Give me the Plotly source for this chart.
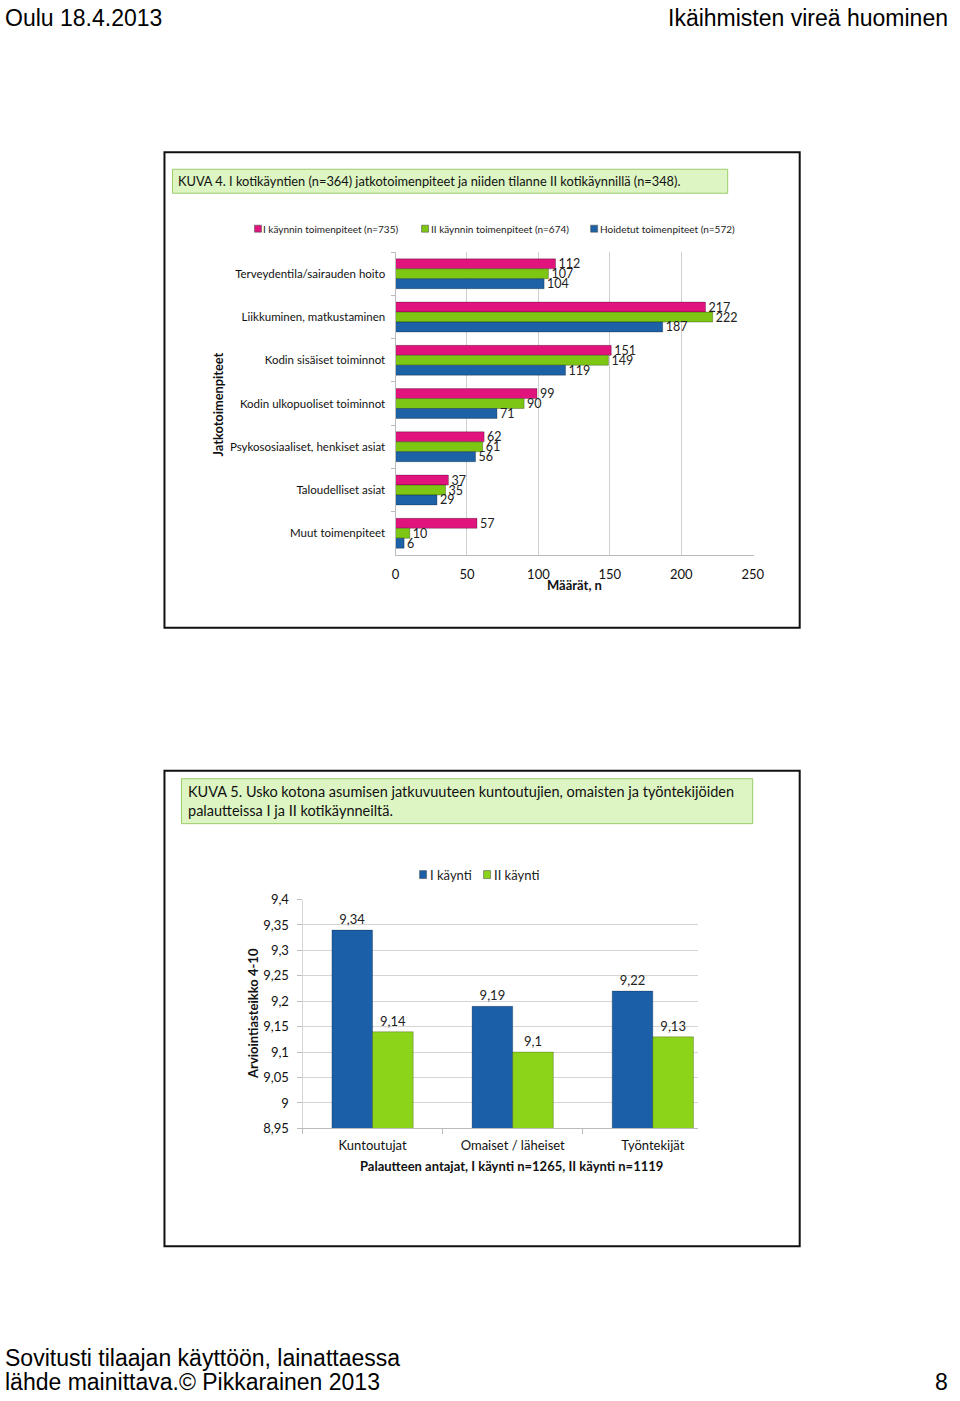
import plotly.graph_objects as go

W, H = 960, 1401
# measured mapping of page pixels -> photographed pixels (compensated below)
SX, OX = 0.984, 3.6
SY, OY = 0.9895, 7.6

# ---- Chart 1 data ----
categories1 = ["Terveydentila/sairauden hoito", "Liikkuminen, matkustaminen",
               "Kodin sisäiset toiminnot", "Kodin ulkopuoliset toiminnot",
               "Psykososiaaliset, henkiset asiat", "Taloudelliset asiat",
               "Muut toimenpiteet"]
visit1_actions = [112, 217, 151, 99, 62, 37, 57]
visit2_actions = [107, 222, 149, 90, 61, 35, 10]
done_actions = [104, 187, 119, 71, 56, 29, 6]
series1_names = ["I käynnin toimenpiteet (n=735)", "II käynnin toimenpiteet (n=674)",
                 "Hoidetut toimenpiteet (n=572)"]
x1_ticks = [0, 50, 100, 150, 200, 250]

# ---- Chart 2 data ----
categories2 = ["Kuntoutujat", "Omaiset / läheiset", "Työntekijät"]
visit1_scores = [9.34, 9.19, 9.22]
visit2_scores = [9.14, 9.10, 9.13]
series2_names = ["I käynti", "II käynti"]
y2_ticks = [8.95, 9.0, 9.05, 9.1, 9.15, 9.2, 9.25, 9.3, 9.35, 9.4]

PINK = "#e0147c"
GREEN1 = "#7dc614"
BLUE1 = "#1d62a6"
BLUE2 = "#1a5fa8"
GREEN2 = "#8cd41a"
FONT = "Lato"
HFONT = "Liberation Sans"


def px(x):
    return ((x - OX) / SX) / W


def py(y):
    return 1 - ((y - OY) / SY) / H


def fmt(v):
    s = f"{v:.2f}".rstrip("0").rstrip(".")
    return s.replace(".", ",")


fig = go.Figure()

for vals, name, col in zip([visit1_actions, visit2_actions, done_actions], series1_names,
                           [PINK, GREEN1, BLUE1]):
    fig.add_trace(go.Bar(
        x=vals, y=categories1, orientation="h", name=name, showlegend=False,
        marker=dict(color=col, line=dict(color="rgba(0,0,0,0.35)", width=0.8)),
        text=[str(v) for v in vals], textposition="outside", cliponaxis=False,
        constraintext="none",
        textfont=dict(size=12.5, color="#222", family=FONT),
        xaxis="x", yaxis="y"))

bar2_width = 0.29
for i, (vals, name, col) in enumerate(zip([visit1_scores, visit2_scores], series2_names,
                                          [BLUE2, GREEN2])):
    fig.add_trace(go.Bar(
        x=categories2, y=vals, name=name, showlegend=False,
        width=bar2_width, offset=(i - 1) * bar2_width,
        marker=dict(color=col, line=dict(color="rgba(0,0,0,0.3)", width=0.8)),
        text=[fmt(v) for v in vals], textposition="outside", cliponaxis=False,
        constraintext="none",
        textfont=dict(size=13, color="#222", family=FONT),
        xaxis="x2", yaxis="y2"))

shapes = [
    dict(type="rect", x0=px(164), x1=px(799), y0=py(628), y1=py(152),
         line=dict(color="#111", width=2), fillcolor="rgba(0,0,0,0)", layer="below"),
    dict(type="rect", x0=px(164), x1=px(799), y0=py(1247), y1=py(771),
         line=dict(color="#111", width=2), fillcolor="rgba(0,0,0,0)", layer="below"),
    dict(type="rect", x0=px(172), x1=px(727), y0=py(193), y1=py(169),
         line=dict(color="#9ccc6a", width=1), fillcolor="#dcf5c2", layer="below"),
    dict(type="rect", x0=px(181), x1=px(752), y0=py(824), y1=py(779),
         line=dict(color="#9ccc6a", width=1), fillcolor="#dcf5c2", layer="below"),
]

ann = [
    dict(text="Oulu 18.4.2013", x=0, y=1 + 4 / H, xanchor="left", yanchor="top",
         font=dict(family=HFONT, size=23, color="#000")),
    dict(text="Ikäihmisten vireä huominen", x=1, y=1 + 4 / H, xanchor="right", yanchor="top",
         font=dict(family=HFONT, size=23, color="#000")),
    dict(text="Sovitusti tilaajan käyttöön, lainattaessa", x=0, y=py(1359), xanchor="left",
         yanchor="middle", font=dict(family=HFONT, size=23, color="#000")),
    dict(text="lähde mainittava.© Pikkarainen 2013", x=0, y=1 - 1390 / H, xanchor="left",
         yanchor="middle", font=dict(family=HFONT, size=23, color="#000")),
    dict(text="8", x=1, y=1 - 1390 / H, xanchor="right", yanchor="middle",
         font=dict(family=HFONT, size=23, color="#000")),
    dict(text="KUVA 4. I kotikäyntien (n=364) jatkotoimenpiteet ja niiden tilanne II kotikäynnillä (n=348).",
         x=px(177), y=py(181), xanchor="left", yanchor="middle",
         font=dict(family=FONT, size=12.8, color="#111")),
    dict(text="KUVA 5. Usko kotona asumisen jatkuvuuteen kuntoutujien, omaisten ja työntekijöiden<br>palautteissa I ja II kotikäynneiltä.",
         x=px(187), y=py(801), xanchor="left", yanchor="middle", align="left",
         font=dict(family=FONT, size=14.5, color="#111")),
    dict(text="<b>Jatkotoimenpiteet</b>", x=px(218), y=py(404), textangle=-90,
         xanchor="center", yanchor="middle", font=dict(family=FONT, size=12.8, color="#111")),
    dict(text="<b>Määrät, n</b>", x=px(574), y=py(585), xanchor="center", yanchor="middle",
         font=dict(family=FONT, size=13, color="#111")),
    dict(text="<b>Arviointiasteikko 4-10</b>", x=px(253), y=py(1014), textangle=-90,
         xanchor="center", yanchor="middle", font=dict(family=FONT, size=13, color="#111")),
    dict(text="<b>Palautteen antajat, I käynti n=1265, II käynti n=1119</b>", x=px(511), y=py(1167),
         xanchor="center", yanchor="middle", font=dict(family=FONT, size=13, color="#111")),
]

# manual legends (small squares + labels)
leg1 = [(258, series1_names[0], PINK), (425, series1_names[1], GREEN1), (594, series1_names[2], BLUE1)]
for xc, name, col in leg1:
    shapes.append(dict(type="rect", x0=px(xc - 4), x1=px(xc + 3), y0=py(232), y1=py(225),
                       fillcolor=col, line=dict(color="#555", width=0.6)))
    ann.append(dict(text=name, x=px(xc + 4), y=py(228.5), xanchor="left", yanchor="middle",
                    font=dict(family=FONT, size=10, color="#222")))
leg2 = [(423, series2_names[0], BLUE2), (487, series2_names[1], GREEN2)]
for xc, name, col in leg2:
    shapes.append(dict(type="rect", x0=px(xc - 4), x1=px(xc + 3), y0=py(879), y1=py(871),
                       fillcolor=col, line=dict(color="#555", width=0.6)))
    ann.append(dict(text=name, x=px(xc + 5), y=py(875), xanchor="left", yanchor="middle",
                    font=dict(family=FONT, size=13, color="#222")))

for s in shapes:
    s.update(xref="paper", yref="paper")
for a in ann:
    a.update(xref="paper", yref="paper", showarrow=False)
    a.setdefault("borderpad", 0)

fig.update_layout(
    width=W, height=H, margin=dict(l=0, r=0, t=0, b=0),
    paper_bgcolor="white", plot_bgcolor="white",
    font=dict(family=FONT, color="#111"),
    barmode="group", showlegend=False,
    shapes=shapes, annotations=ann,
    xaxis=dict(domain=[px(395), px(753)], anchor="y", range=[0, 250.7], tickvals=x1_ticks,
               showgrid=True, gridcolor="#d0d0d0", gridwidth=1, zeroline=False,
               showline=True, linecolor="#bbb", ticks="", tickfont=dict(size=13),
               ticklabelstandoff=8),
    yaxis=dict(domain=[py(555), py(252)], anchor="x", autorange="reversed",
               showline=True, linecolor="#bbb", ticks="outside", ticklen=4, tickcolor="#bbb",
               tickson="boundaries", tickfont=dict(size=11.5), showgrid=False,
               ticklabelstandoff=7),
    xaxis2=dict(domain=[px(302), px(697)], anchor="y2", range=[-0.5, 2.32],
                showline=True, linecolor="#bbb",
                ticks="outside", tickcolor="#bbb", ticklen=5, tickson="boundaries",
                tickfont=dict(size=13), ticklabelstandoff=5),
    yaxis2=dict(domain=[py(1129), py(900)], anchor="x2", range=[8.95, 9.4],
                tickvals=y2_ticks, ticktext=[fmt(v) for v in y2_ticks],
                showgrid=True, gridcolor="#d5d5d5", zeroline=False,
                showline=True, linecolor="#d5d5d5", ticks="outside", ticklen=5, tickcolor="#bbb",
                tickfont=dict(size=13), ticklabelstandoff=5),
    bargap=0.31, bargroupgap=0.0,
)

fig.write_html("out.html", config={"displayModeBar": False},
               post_script="document.body.style.margin='0';document.body.style.overflow='hidden';")
